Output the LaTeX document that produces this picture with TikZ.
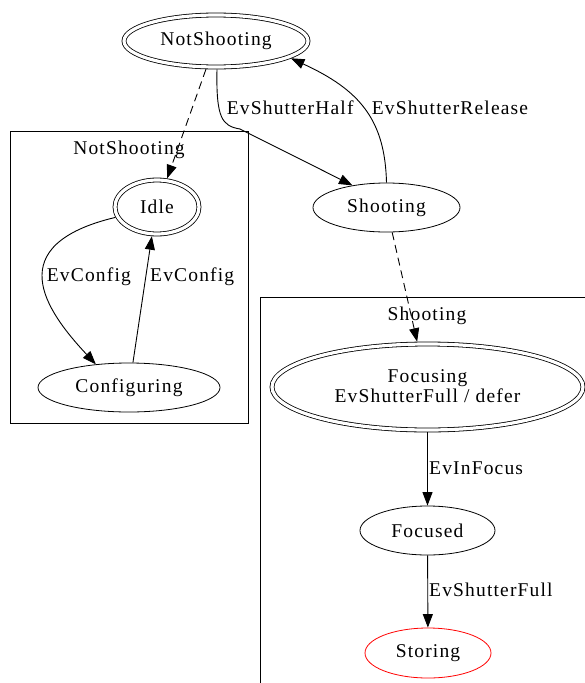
\documentclass[tikz,border=0pt]{standalone}
\usepackage{fontspec}
\setmainfont{Liberation Serif}[LetterSpace=6]
\usetikzlibrary{arrows.meta,shapes.geometric}
\begin{document}
\begin{tikzpicture}[x=1pt,y=-1pt,
  every node/.style={font=\fontsize{19.5}{20.5}\selectfont},
  state/.style={draw,ellipse,inner sep=0pt,line width=0.8pt},
  initstate/.style={state,double,double distance=3.2pt,outer sep=2.4pt},
  final/.style={state,draw=red},
  cluster/.style={draw,line width=0.9pt},
  trans/.style={line width=0.9pt,-{Triangle[length=13.5pt,width=10pt]}},
  substate/.style={trans,dash pattern=on 8pt off 5pt},
  lbl/.style={anchor=base west,inner sep=0pt},
  clbl/.style={anchor=base,inner sep=0pt}]
\useasboundingbox (0,0) rectangle (585,683);
\clip (0,0) rectangle (585,683);

% clusters
\draw[cluster] (10.5,131) rectangle (248.5,423.5);
\node[clbl] (nscl) at (129,154) {NotShooting};
\draw[cluster] (260,297) rectangle (610,720);
\node[clbl] (shcl) at (427,320.7) {Shooting};

% states
\node[initstate,minimum width=184pt,minimum height=52pt] (ns) at (216,41) {NotShooting};
\node[state,minimum width=147pt,minimum height=49pt] (sh) at (386.5,207.5) {Shooting};
\node[initstate,minimum width=84pt,minimum height=54pt] (idle) at (157,207) {Idle};
\node[state,minimum width=182pt,minimum height=49pt] (cfg) at (129,387.5) {Configuring};
\node[initstate,align=center,minimum width=311pt,minimum height=86pt] (foc) at (427.5,387) {\raisebox{2pt}{Focusing}\\\raisebox{2pt}{EvShutterFull / defer}};
\node[state,minimum width=135pt,minimum height=49pt] (fcd) at (427.5,530.5) {Focused};
\node[final,minimum width=126pt,minimum height=50pt] (sto) at (428,653) {Storing};

% substate links
\draw[substate] (ns) -- (idle);
\draw[substate] (sh) -- (foc);

% transitions
\draw[trans] (ns.-88) .. controls (216,118) and (222,126) .. (240,129) -- (sh.147);
\node[lbl] (l1) at (226.7,114) {EvShutterHalf};
\draw[trans] (sh.90) .. controls (385,120) and (360,90) .. (ns.-13);
\node[lbl] (l2) at (371.7,114) {EvShutterRelease};
\draw[trans] (idle.194) .. controls (0,245) and (45,310) .. (cfg.145);
\node[lbl] (l3) at (46.7,281) {EvConfig};
\draw[trans] (cfg.81) -- (idle.-100);
\node[lbl] (l4) at (150,281) {EvConfig};
\draw[trans] (foc) -- (fcd);
\node[lbl] (l5) at (429,474) {EvInFocus};
\draw[trans] (fcd) -- (sto);
\node[lbl] (l6) at (429,596.7) {EvShutterFull};
\end{tikzpicture}
\end{document}
